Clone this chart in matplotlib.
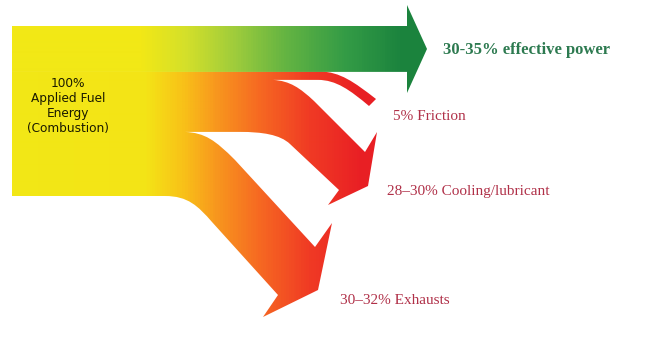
import numpy as np
import matplotlib
matplotlib.use("Agg")
import matplotlib.pyplot as plt
from matplotlib.path import Path
from matplotlib.patches import PathPatch
from matplotlib.colors import LinearSegmentedColormap

# ---- data ----
flows = ["effective power", "Friction", "Cooling/lubricant", "Exhausts"]
flow_labels = ["30-35% effective power", "5% Friction",
               "28\u201330% Cooling/lubricant", "30\u201332% Exhausts"]
band_share = [27.0, 4.7, 30.6, 37.7]   # drawn band thickness, % of input
source_label = "100%\nApplied Fuel\nEnergy\n(Combustion)"

# ---- layout (pixel-like coordinates, y downwards) ----
W, H = 648, 360
fig = plt.figure(figsize=(6.48, 3.6), dpi=100)
ax = fig.add_axes([0, 0, 1, 1])
ax.set_xlim(0, W)
ax.set_ylim(H, 0)
ax.axis("off")

top, height = 26.0, 170.0
edges = top + np.concatenate([[0], np.cumsum(band_share)]) * height / 100.0
yg, yf, yc, ye = edges[1], edges[2], edges[3], edges[4]
x0 = 12

M, L, C, Z = Path.MOVETO, Path.LINETO, Path.CURVE4, Path.CLOSEPOLY

# green arrow
gv = [(x0, top), (407, top), (407, 5), (427, (top + yg) / 2), (407, 93),
      (407, yg), (x0, yg), (x0, top)]
gc = [M, L, L, L, L, L, L, Z]
green_path = Path(gv, gc)

# lower (losses) bands
lv, lc = [], []
def add(code, *pts):
    for p in pts:
        lv.append(p); lc.append(code)
add(M, (x0, yg - 0.5))
add(L, (320, yg - 0.5))
add(C, (340, yg), (354, yg + 10), (376, 99))
add(L, (369, 106))
add(C, (350, 90), (336, yf), (318, yf))
add(L, (273, yf))
add(C, (290, yf + 1), (300, 88), (314, 101))
add(L, (365, 152), (377, 132), (368, 186), (328, 205), (339, 190), (290, 144))
add(C, (280, 134.5), (262, yc), (240, yc))
add(L, (185, yc))
add(C, (205, yc + 1), (215, 140), (235, 160))
add(L, (315, 247), (332, 223), (318, 290), (263, 317), (278, 295), (212, 222))
add(C, (198, 206), (188, ye), (165, ye))
add(L, (x0, ye))
add(Z, (x0, yg - 0.5))
loss_path = Path(lv, lc)

def stops(pts):
    return [(x / W, tuple(c / 255 for c in rgb)) for x, rgb in pts]

green_cmap = LinearSegmentedColormap.from_list("g", stops([
    (0, (242, 232, 22)), (140, (242, 232, 22)), (185, (212, 224, 42)),
    (235, (158, 204, 60)), (285, (100, 180, 66)), (345, (52, 156, 70)),
    (400, (28, 132, 62)), (W, (20, 120, 58))]))
red_cmap = LinearSegmentedColormap.from_list("r", stops([
    (0, (242, 232, 22)), (145, (244, 228, 22)), (180, (248, 196, 24)),
    (215, (248, 152, 30)), (260, (246, 104, 34)), (310, (240, 58, 36)),
    (360, (233, 32, 36)), (W, (230, 28, 36))]))

grad = np.linspace(0, 1, W)[np.newaxis, :]
for path, cmap in [(loss_path, red_cmap), (green_path, green_cmap)]:
    patch = PathPatch(path, facecolor="none", edgecolor="none")
    ax.add_patch(patch)
    im = ax.imshow(grad, cmap=cmap, extent=[0, W, H, 0], aspect="auto",
                   interpolation="bilinear")
    im.set_clip_path(patch)

ax.text(68, 106, source_label, ha="center", va="center", fontsize=8.7,
        linespacing=1.22, color="#1a1a00", family="DejaVu Sans")

serif = "Liberation Serif"
ax.text(443, 50, flow_labels[0], ha="left", va="center", fontsize=12,
        fontweight="bold", color="#2d7a50", family=serif)
ax.text(393, 116, flow_labels[1], ha="left", va="center", fontsize=11,
        color="#b03048", family=serif)
ax.text(387, 192, flow_labels[2], ha="left", va="center", fontsize=11,
        color="#b03048", family=serif)
ax.text(340, 300, flow_labels[3], ha="left", va="center", fontsize=11,
        color="#b03048", family=serif)

fig.savefig("out.png", dpi=100)
